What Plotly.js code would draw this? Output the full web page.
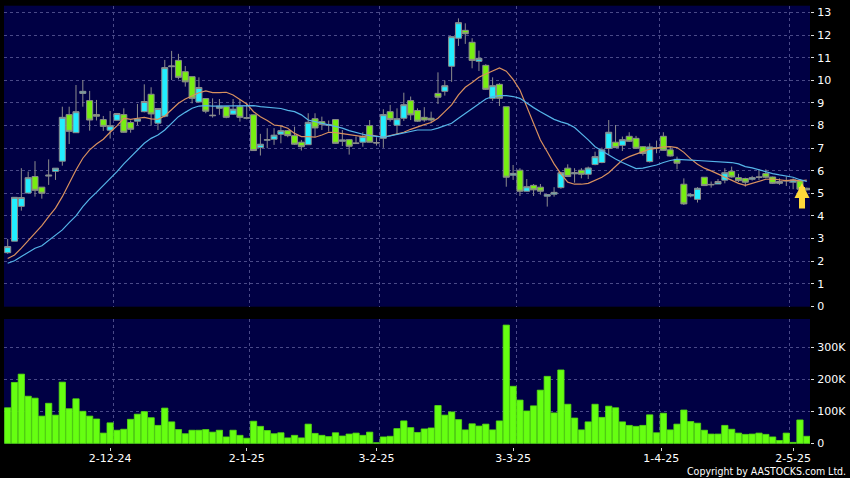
<!DOCTYPE html>
<html><head><meta charset="utf-8">
<script src="https://cdn.plot.ly/plotly-3.0.1.min.js"></script>
<style>html,body{margin:0;padding:0;background:#000}</style></head>
<body><div id="chart" style="width:850px;height:478px"></div>
<script>
const open=[2.37,2.88,4.42,5.01,5.74,5.27,5.76,5.97,6.42,8.48,7.68,9.42,9.10,8.48,8.26,7.79,8.23,8.48,8.13,8.19,8.61,9.38,8.10,8.41,10.60,10.88,10.38,10.16,9.04,9.19,8.43,8.76,8.83,8.50,8.83,8.32,8.47,7.02,7.35,7.39,7.61,
7.77,7.55,7.26,7.15,8.30,8.17,8.00,8.26,7.30,7.37,7.20,7.26,7.99,7.22,7.43,8.61,8.01,8.32,9.10,8.66,8.36,8.32,9.42,9.51,10.62,11.86,12.21,11.68,10.84,10.66,9.20,9.82,8.83,5.80,6.02,5.09,5.35,5.27,4.87,4.96,5.25,
6.11,5.86,6.02,5.84,6.27,6.36,6.98,7.26,7.12,7.52,7.43,7.06,6.40,7.00,7.52,6.92,6.50,5.40,4.88,4.73,5.71,5.37,5.41,5.58,5.97,5.69,5.65,5.62,5.70,5.87,5.72,5.52,5.54,5.49,5.55,5.22];
const high=[2.98,4.82,6.11,5.96,6.42,5.27,6.50,6.11,8.83,8.83,9.79,10.01,9.53,9.13,8.42,8.64,8.55,8.76,8.22,8.95,9.82,9.69,8.75,10.90,11.30,11.17,10.63,10.16,10.13,9.19,9.20,9.17,8.86,9.17,9.16,8.98,8.47,7.63,7.88,7.88,8.00,
7.80,7.95,7.36,8.54,8.54,8.39,8.22,8.28,7.80,7.40,7.51,7.70,8.24,7.48,8.72,8.91,8.76,9.45,9.28,8.76,8.81,8.61,10.35,9.99,11.96,12.74,12.52,11.86,11.31,10.71,10.13,9.87,8.83,6.25,6.11,5.63,5.41,5.41,4.96,5.27,5.95,
6.28,6.11,6.11,6.18,6.84,7.02,8.24,8.02,7.51,7.70,7.54,7.09,7.21,7.33,7.70,7.06,6.62,5.66,5.00,5.27,5.71,5.52,5.63,6.11,6.18,5.86,5.69,5.77,6.06,6.06,5.74,5.66,5.74,5.66,5.62,5.25];
const low=[2.32,2.88,4.23,5.00,4.85,4.76,5.37,5.59,6.22,7.18,7.68,8.83,7.77,8.22,7.76,7.42,8.22,7.68,7.68,8.01,8.58,7.99,7.80,8.36,10.01,10.04,9.72,8.98,9.01,8.54,8.35,8.47,8.32,8.47,8.17,8.27,6.87,6.67,6.99,7.14,7.21,
7.48,7.14,6.89,7.14,7.48,7.80,7.73,7.19,7.09,6.71,7.18,7.06,7.25,7.11,7.01,8.17,7.61,8.20,8.24,8.16,8.16,8.10,8.95,9.32,9.93,11.52,11.61,10.53,10.41,9.57,9.09,8.86,5.29,5.59,4.88,5.08,4.88,4.94,4.41,4.85,5.20,
5.74,5.47,5.66,5.63,6.24,6.33,6.70,7.02,6.87,7.27,6.96,6.67,6.36,6.77,6.89,6.62,6.06,4.48,4.82,4.59,5.32,5.25,5.41,5.44,5.69,5.50,5.29,5.56,5.59,5.66,5.41,5.37,5.32,5.18,5.15,5.12];
const close=[2.64,4.82,4.81,5.69,5.13,5.00,5.80,6.11,8.36,7.74,8.61,9.51,8.24,8.41,7.96,7.99,8.53,7.70,7.83,8.29,9.06,8.51,8.75,10.56,10.63,10.13,9.93,9.20,9.68,8.63,8.45,8.85,8.36,8.72,8.36,8.34,6.89,7.17,7.37,7.57,7.77,
7.55,7.17,7.06,8.14,7.89,8.05,8.03,7.21,7.36,7.08,7.22,7.51,7.26,7.24,8.48,8.26,8.30,8.92,8.47,8.19,8.24,8.24,9.25,9.76,11.93,12.55,12.06,10.88,10.97,9.60,9.76,9.20,5.71,5.88,5.09,5.29,5.15,5.09,4.94,5.04,5.91,
5.74,5.91,5.84,6.12,6.62,6.92,7.70,7.02,7.37,7.30,6.99,6.76,7.05,7.02,6.90,6.65,6.33,4.53,4.94,5.22,5.34,5.39,5.52,5.91,5.72,5.56,5.49,5.69,5.72,5.71,5.44,5.44,5.56,5.59,5.18,5.15];
const maFast=[2.11,2.27,2.57,2.91,3.23,3.57,3.97,4.34,4.85,5.47,6.03,6.55,6.92,7.18,7.39,7.70,7.98,8.32,8.27,8.32,8.36,8.29,8.27,8.42,8.72,8.98,9.17,9.31,9.45,9.53,9.45,9.45,9.47,9.35,9.16,8.95,8.61,8.39,8.22,8.02,7.98,
7.88,7.65,7.51,7.51,7.48,7.58,7.70,7.68,7.63,7.58,7.54,7.51,7.58,7.54,7.48,7.55,7.61,7.70,7.83,7.95,8.04,8.13,8.32,8.61,8.91,9.35,9.69,9.90,10.13,10.28,10.40,10.55,10.40,10.04,9.57,8.83,8.02,7.36,6.84,6.30,5.86,
5.49,5.40,5.40,5.44,5.56,5.71,5.91,6.21,6.47,6.62,6.74,6.84,6.95,6.99,7.05,7.06,7.02,6.81,6.52,6.28,6.11,5.99,5.86,5.71,5.59,5.44,5.35,5.44,5.55,5.62,5.63,5.59,5.56,5.59,5.55,5.58];
const maSlow=[1.90,2.01,2.20,2.39,2.57,2.68,2.91,3.13,3.38,3.70,4.00,4.41,4.75,5.04,5.34,5.63,5.96,6.30,6.59,6.89,7.21,7.43,7.58,7.80,8.10,8.39,8.58,8.76,8.86,8.88,8.86,8.86,8.86,8.86,8.86,8.89,8.88,8.83,8.81,8.79,8.75,
8.67,8.61,8.47,8.24,8.17,8.10,8.02,7.95,7.88,7.77,7.68,7.61,7.55,7.51,7.48,7.54,7.61,7.68,7.76,7.80,7.80,7.80,7.88,7.98,8.10,8.32,8.54,8.76,8.98,9.17,9.28,9.32,9.32,9.28,9.20,8.98,8.79,8.61,8.44,8.27,8.16,
8.07,7.91,7.65,7.36,7.06,6.87,6.70,6.52,6.36,6.21,6.09,6.11,6.18,6.25,6.36,6.45,6.50,6.50,6.47,6.45,6.43,6.42,6.40,6.39,6.36,6.30,6.18,6.12,6.03,5.96,5.87,5.81,5.77,5.71,5.60,5.52];
const volumeK=[111,190,216,147,141,85,125,88,191,108,139,100,85,76,32,64,41,44,75,91,99,80,56,110,67,43,30,41,41,43,35,41,20,41,25,16,69,53,40,30,33,
17,25,17,60,31,25,21,33,23,29,32,25,35,2,20,22,46,70,49,34,45,48,118,88,98,74,42,61,54,60,42,70,369,178,135,101,117,166,209,95,229,
122,79,42,67,122,81,116,111,67,56,53,56,89,33,94,42,60,104,68,63,41,29,29,56,44,32,28,29,32,28,20,9,32,3,73,22];
const dateLabels=['2-12-24','2-1-25','3-2-25','3-3-25','1-4-25','2-5-25'];
const dateTicks=[15,35,54,74,95.7,115];
const gridTicks=[15.46,35.4,54.4,74.5,95.4,114.4];
const priceTicks=[0,1,2,3,4,5,6,7,8,9,10,11,12,13];
const volTicks=[0,100,200,300];
const volLabels=['0','100K','200K','300K'];
const index=open.map((_,i)=>i);

const GRID='#4a4a88', FONT='DejaVu Sans, sans-serif', W=850, H=478;
const xRange=[-0.54,117.47];
const xCommon={range:xRange,type:'linear',showgrid:false,zeroline:false,showline:false,fixedrange:true,
  minor:{tickvals:gridTicks,showgrid:true,gridcolor:GRID,griddash:'3px,3px',gridwidth:1,ticks:''}};
const yCommon={side:'right',showline:false,zeroline:false,gridcolor:GRID,griddash:'3px,3px',gridwidth:1,
  ticks:'outside',ticklen:3,tickcolor:'#dddddd',tickwidth:1,ticklabelstandoff:1,
  tickfont:{family:FONT,size:11,color:'#ffffff'},fixedrange:true};

const traces=[
 {type:'candlestick',x:index,open:open,high:high,low:low,close:close,xaxis:'x2',yaxis:'y2',
  increasing:{line:{color:'#8c8c8c',width:1},fillcolor:'#22eeff'},
  decreasing:{line:{color:'#8c8c8c',width:1},fillcolor:'#77ee11'},whiskerwidth:0,hoverinfo:'skip'},
 {type:'scatter',mode:'lines',x:index,y:maFast,xaxis:'x2',yaxis:'y2',line:{color:'#d8905f',width:1.2},hoverinfo:'skip'},
 {type:'scatter',mode:'lines',x:index,y:maSlow,xaxis:'x2',yaxis:'y2',line:{color:'#55b4e8',width:1.2},hoverinfo:'skip'},
 {type:'bar',x:index,y:volumeK,xaxis:'x',yaxis:'y',width:0.92,marker:{color:'#66ff11',line:{color:'#55dd10',width:0.8}},hoverinfo:'skip'}
];
const layout={
 width:W,height:H,autosize:false,showlegend:false,paper_bgcolor:'#000000',plot_bgcolor:'#000044',
 margin:{l:0,r:0,t:0,b:0,pad:0},boxgap:0.12,boxgroupgap:0,
 xaxis:Object.assign({},xCommon,{domain:[4/W,810/W],anchor:'free',position:(H-446.7)/H,
   tickvals:dateTicks,ticktext:dateLabels,ticks:'outside',ticklen:3,tickcolor:'#dddddd',tickwidth:1,
   ticklabelstandoff:-2,tickfont:{family:FONT,size:11,color:'#ffffff'},tickangle:0}),
 xaxis2:Object.assign({},xCommon,{domain:[4/W,810/W],anchor:'y2',showticklabels:false,ticks:'',tickvals:[],rangeslider:{visible:false}}),
 yaxis:Object.assign({},yCommon,{domain:[(H-444)/H,(H-319)/H],range:[-2,388],anchor:'x',tickvals:volTicks,ticktext:volLabels}),
 yaxis2:Object.assign({},yCommon,{domain:[(H-306.7)/H,(H-5.7)/H],range:[-0.02,13.3],anchor:'x2',tickvals:priceTicks}),
 annotations:[
  {xref:'x2',yref:'y2',x:116.3,y:5.45,axref:'pixel',ayref:'pixel',ax:0,ay:27,text:'',showarrow:true,arrowhead:2,arrowsize:0.5,arrowwidth:6,arrowcolor:'#ffd93a',standoff:0},
  {xref:'paper',yref:'paper',x:848/W,y:(H-471)/H,xanchor:'right',yanchor:'middle',showarrow:false,text:'Copyright by AASTOCKS.com Ltd.',font:{family:'DejaVu Sans Condensed, DejaVu Sans, sans-serif',size:10.5,color:'#ffffff'}}
 ]
};
Plotly.newPlot('chart',traces,layout,{displayModeBar:false,staticPlot:true});
</script></body></html>
